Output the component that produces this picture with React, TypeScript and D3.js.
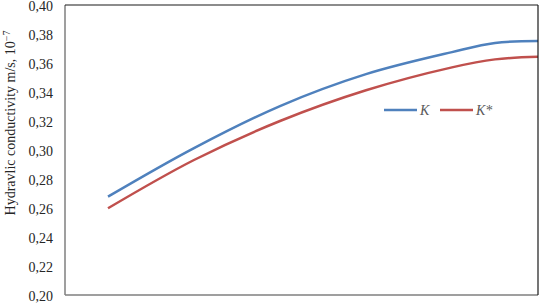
import React, { useEffect, useRef } from "react";
import * as d3 from "d3";

// hidden x positions (no x axis labels in the original chart)
const xs = [1, 3, 5, 7, 9, 10, 11];
const kValues = [0.2678, 0.3013, 0.3303, 0.3523, 0.3675, 0.3738, 0.3752];
const kStarValues = [0.2598, 0.2931, 0.32, 0.3412, 0.357, 0.3625, 0.3643];
const yTicks = [0.2, 0.22, 0.24, 0.26, 0.28, 0.3, 0.32, 0.34, 0.36, 0.38, 0.4];
const seriesNames = ["K", "K*"];
const colors = ["#4f81bd", "#c0504d"];

const width = 540;
const height = 303;
const plot = { left: 65, right: 538, top: 5, bottom: 295 };

const commaFormat = d3.formatLocale({
  decimal: ",",
  thousands: " ",
  grouping: [3],
  currency: ["", ""],
}).format(".2f");

export default function App() {
  const svgRef = useRef<SVGSVGElement | null>(null);

  useEffect(() => {
    const svg = d3.select(svgRef.current);
    svg.selectAll("*").remove();

    const x = d3.scaleLinear().domain([0, 11]).range([plot.left, plot.right]);
    const y = d3.scaleLinear().domain([0.2, 0.4]).range([plot.bottom, plot.top]);

    // tick labels
    svg
      .append("g")
      .selectAll("text")
      .data(yTicks)
      .join("text")
      .attr("x", 53)
      .attr("y", (d) => y(d) + 1)
      .attr("dy", "0.35em")
      .attr("text-anchor", "end")
      .attr("font-family", "'Liberation Serif', 'Times New Roman', serif")
      .attr("font-size", 14)
      .attr("fill", "#262626")
      .text((d) => commaFormat(d));

    // y axis title
    const title = svg
      .append("text")
      .attr("transform", `translate(15, 123) rotate(-90)`)
      .attr("text-anchor", "middle")
      .attr("font-family", "'Liberation Serif', 'Times New Roman', serif")
      .attr("font-size", 14)
      .attr("fill", "#262626");
    title.append("tspan").text("Hydravlic conductivity m/s, 10");
    title.append("tspan").attr("dy", -5).attr("font-size", 10).text("−7");

    // lines
    const line = d3
      .line<number>()
      .x((_, i) => x(xs[i]))
      .y((d) => y(d))
      .curve(d3.curveCatmullRom.alpha(0.5));

    [kValues, kStarValues].forEach((vals, i) => {
      svg
        .append("path")
        .attr("d", line(vals))
        .attr("fill", "none")
        .attr("stroke", colors[i])
        .attr("stroke-width", 2.5);
    });

    // frame
    const frame = svg.append("g");
    frame.append("line").attr("x1", plot.left).attr("x2", plot.left).attr("y1", plot.top).attr("y2", plot.bottom).attr("stroke", "#7f7f7f").attr("stroke-width", 1.5);
    frame.append("line").attr("x1", plot.left).attr("x2", plot.right).attr("y1", plot.bottom).attr("y2", plot.bottom).attr("stroke", "#7f7f7f").attr("stroke-width", 1.5);
    frame.append("line").attr("x1", plot.left).attr("x2", plot.right).attr("y1", plot.top).attr("y2", plot.top).attr("stroke", "#1a1a1a").attr("stroke-width", 1.2);
    frame.append("line").attr("x1", plot.right).attr("x2", plot.right).attr("y1", plot.top).attr("y2", plot.bottom).attr("stroke", "#1a1a1a").attr("stroke-width", 1.2);

    // legend
    const legendX = [384, 440];
    const legend = svg.append("g");
    seriesNames.forEach((name, i) => {
      legend
        .append("line")
        .attr("x1", legendX[i])
        .attr("x2", legendX[i] + 33)
        .attr("y1", 110)
        .attr("y2", 110)
        .attr("stroke", colors[i])
        .attr("stroke-width", 2.5);
      legend
        .append("text")
        .attr("x", legendX[i] + 36)
        .attr("y", 110)
        .attr("dy", "0.35em")
        .attr("font-family", "'Liberation Serif', 'Times New Roman', serif")
        .attr("font-style", "italic")
        .attr("font-size", 14)
        .attr("fill", "#595959")
        .text(name);
    });
  }, []);

  return (
    <svg
      ref={svgRef}
      width={width}
      height={height}
      style={{ position: "absolute", left: 0, top: 0, background: "#fff" }}
    />
  );
}
